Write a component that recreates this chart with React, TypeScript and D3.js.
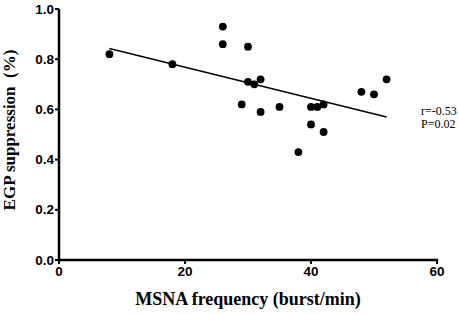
import React from "react";
import * as d3 from "d3";

const msna = [8, 18, 26, 26, 30, 30, 31, 32, 29, 32, 35, 40, 41, 42, 40, 42, 38, 48, 50, 52];
const egp = [0.82, 0.78, 0.93, 0.86, 0.85, 0.71, 0.70, 0.72, 0.62, 0.59, 0.61, 0.61, 0.61, 0.62, 0.54, 0.51, 0.43, 0.67, 0.66, 0.72];
const fitX = [8, 52];
const fitY = [0.843, 0.57];
const xTicks = [0, 20, 40, 60];
const yTicks = [0, 0.2, 0.4, 0.6, 0.8, 1.0];
const stats = ["r=-0.53", "P=0.02"];

export default function App() {
  const x = d3.scaleLinear().domain([0, 60]).range([59, 437]);
  const y = d3.scaleLinear().domain([0, 1]).range([260, 9]);
  const line = d3
    .line<number>()
    .x((d) => x(fitX[d]))
    .y((d) => y(fitY[d]));
  const sans = "'Liberation Sans', Arial, sans-serif";
  const serif = "'Liberation Serif', 'Times New Roman', serif";
  return (
    <svg
      width={459}
      height={314}
      style={{ position: "absolute", left: 0, top: 0, background: "#fff" }}
    >
      <rect width={459} height={314} fill="#fff" />
      {/* axes */}
      <line x1={x(0)} x2={x(0)} y1={y(0) + 1.25} y2={y(1)} stroke="#000" strokeWidth={2.5} />
      <line x1={x(0) - 1.25} x2={x(60) + 1.25} y1={y(0)} y2={y(0)} stroke="#000" strokeWidth={2.5} />
      {yTicks.map((t) => (
        <g key={"y" + t}>
          <line x1={x(0) - 4} x2={x(0)} y1={y(t)} y2={y(t)} stroke="#000" strokeWidth={2} />
          <text
            x={x(0) - 5}
            y={y(t) + 4.5}
            textAnchor="end"
            fontFamily={sans}
            fontWeight="bold"
            fontSize={13.5}
          >
            {t.toFixed(1)}
          </text>
        </g>
      ))}
      {xTicks.map((t) => (
        <g key={"x" + t}>
          <line x1={x(t)} x2={x(t)} y1={y(0)} y2={y(0) + 4} stroke="#000" strokeWidth={2} />
          <text
            x={x(t)}
            y={y(0) + 16}
            textAnchor="middle"
            fontFamily={sans}
            fontWeight="bold"
            fontSize={13.5}
          >
            {t}
          </text>
        </g>
      ))}
      {/* regression line */}
      <path d={line([0, 1]) || ""} stroke="#000" strokeWidth={1.5} fill="none" />
      {/* points */}
      {msna.map((m, i) => (
        <circle key={i} cx={x(m)} cy={y(egp[i])} r={3.9} fill="#000" />
      ))}
      {/* stats */}
      {stats.map((s, i) => (
        <text key={s} x={421} y={115 + i * 13} fontFamily={serif} fontSize={12}>
          {s}
        </text>
      ))}
      {/* axis labels */}
      <text
        x={248}
        y={305}
        textAnchor="middle"
        fontFamily={serif}
        fontWeight="bold"
        fontSize={18}
      >
        MSNA frequency (burst/min)
      </text>
      <text
        transform="translate(15,130) rotate(-90)"
        textAnchor="middle"
        fontFamily={serif}
        fontWeight="bold"
        fontSize={17}
        style={{ whiteSpace: "pre" }}
      >
        {"EGP suppression  (%)"}
      </text>
    </svg>
  );
}
